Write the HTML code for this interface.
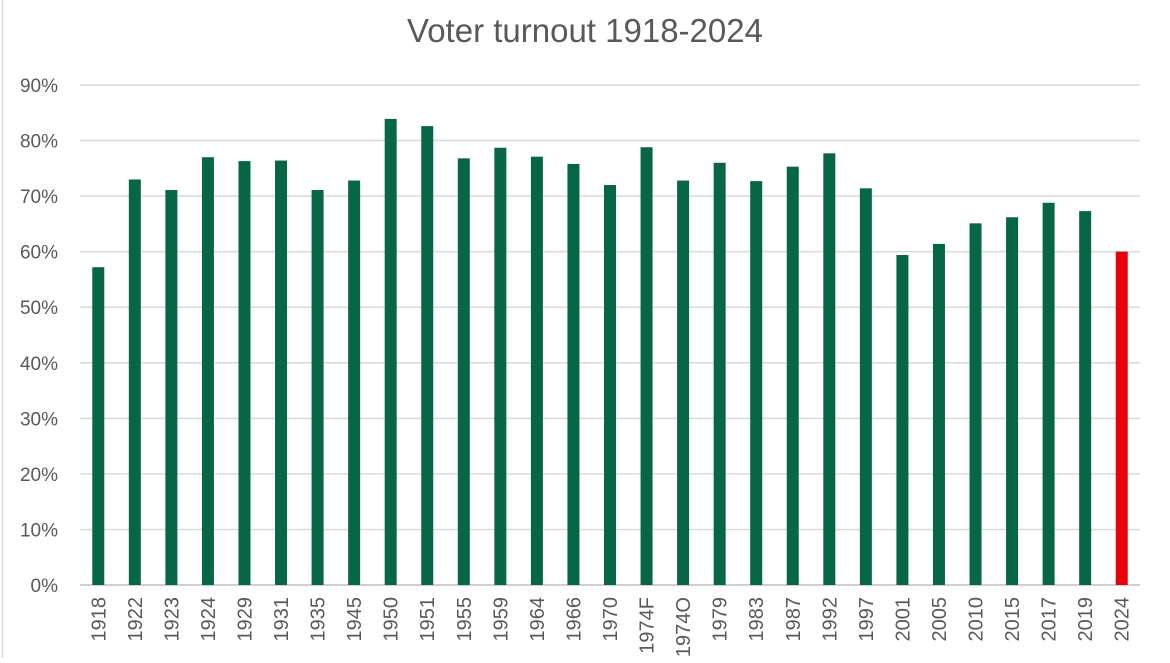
<!DOCTYPE html>
<html><head><meta charset="utf-8"><style>
body{margin:0;background:#fff;width:1170px;height:658px;overflow:hidden;font-family:"Liberation Sans",sans-serif}
</style></head><body>
<svg id="chart" width="1170" height="658" xmlns="http://www.w3.org/2000/svg">
<rect x="0" y="0" width="1170" height="658" fill="#fff"/>
<line x1="2.5" y1="0" x2="2.5" y2="658" stroke="#d9d9d9" stroke-width="1.5"/>
<text x="585" y="42" text-anchor="middle" font-size="33" fill="#595959">Voter turnout 1918-2024</text>
<g id="grid"></g><g id="bars"></g><g id="xlabels"></g><g id="ylabels"></g>
</svg>
<script>
const categories=["1918","1922","1923","1924","1929","1931","1935","1945","1950","1951","1955","1959","1964","1966","1970","1974F","1974O","1979","1983","1987","1992","1997","2001","2005","2010","2015","2017","2019","2024"];
const turnout=[57.2,73.0,71.1,77.0,76.3,76.4,71.1,72.8,83.9,82.6,76.8,78.7,77.1,75.8,72.0,78.8,72.8,76.0,72.7,75.3,77.7,71.4,59.4,61.4,65.1,66.2,68.8,67.3,60.0];
const yTicks=[0,10,20,30,40,50,60,70,80,90];
const highlight=["2024"];
const NS="http://www.w3.org/2000/svg";
const x0=80,x1=1140,yB=585,yT=85,yMax=90;
const step=(x1-x0)/categories.length;
function xS(i){return x0+step*(i+0.5);}
function yS(v){return yB-(v/yMax)*(yB-yT);}
function mk(t,a){const e=document.createElementNS(NS,t);for(const k in a)e.setAttribute(k,a[k]);return e;}
const g=document.getElementById('grid'),b=document.getElementById('bars'),xl=document.getElementById('xlabels'),yl=document.getElementById('ylabels');
yTicks.forEach(t=>{
 const y=yS(t);
 const l=mk('line',{x1:x0,x2:x1,y1:y,y2:y,stroke:t===0?'#bfbfbf':'#d9d9d9','stroke-width':1.5});
 
 
 g.appendChild(l);
 const tx=mk('text',{x:58,y:y+7,'text-anchor':'end','font-size':19,fill:'#595959'});
 tx.textContent=t+'%';
 
 
 yl.appendChild(tx);
});
categories.forEach((c,i)=>{
 const x=xS(i),y=yS(turnout[i]);
 const r=mk('rect',{x:x-6,y:y,width:12,height:yB-y,fill:highlight.includes(c)?'#e8000b':'#076645'});
 
 
 b.appendChild(r);
 const t=mk('text',{x:0,y:0,'text-anchor':'end','font-size':20,fill:'#595959',transform:`translate(${x+7},597) rotate(-90)`});
 t.textContent=c;
 
 
 xl.appendChild(t);
});
</script>
</body></html>
